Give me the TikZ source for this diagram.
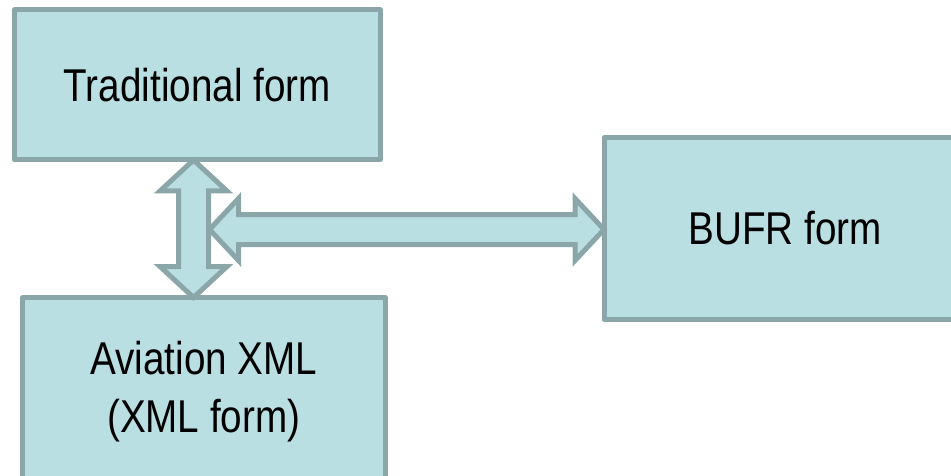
\documentclass[tikz,border=0pt]{standalone}
\usepackage{fontspec}
\setmainfont{Liberation Sans}[FakeStretch=0.84]
\usetikzlibrary{calc}
\definecolor{boxfill}{RGB}{186,223,227}
\definecolor{boxline}{RGB}{138,166,168}
\tikzset{
  formbox/.style={draw=boxline, fill=boxfill, line width=5pt, inner sep=0pt, outer sep=0pt,
    line join=round, align=center, font=\fontsize{46}{58}\selectfont},
  blockarrow/.style={draw=boxline, fill=boxfill, line width=5pt, line join=miter}
}
\begin{document}
\begin{tikzpicture}[x=1pt,y=-1pt]
\useasboundingbox (0,0) rectangle (951,476);
\clip (0,0) rectangle (951,476);
\node[formbox, minimum width=365.5pt, minimum height=150pt] (trad) at (197.25,85) {Traditional form};
\node[formbox, minimum width=362pt, minimum height=182pt] (bufr) at (785,228.5) {BUFR form};
\node[formbox, minimum width=362.5pt, minimum height=187.5pt] (avi) at (203.75,391.25) {Aviation XML\\(XML form)};
\coordinate (vx) at (193.5,0);
\coordinate (vtop) at (vx |- trad.south);
\coordinate (vbot) at (vx |- avi.north);
\coordinate (hl) at ($(vx |- bufr.west)+(16,1)$);
\coordinate (hr) at ($(bufr.west)+(0,1)$);
\draw[blockarrow] (hl) -- ($(hl)+(29,-31)$) -- ($(hl)+(29,-15)$) -- ($(hr)+(-29,-15)$) -- ($(hr)+(-29,-31)$) -- (hr)
  -- ($(hr)+(-29,31)$) -- ($(hr)+(-29,15)$) -- ($(hl)+(29,15)$) -- ($(hl)+(29,31)$) -- cycle;
\draw[blockarrow] (vtop) -- ($(vtop)+(33.5,31)$) -- ($(vtop)+(15,31)$) -- ($(vbot)+(15,-31)$) -- ($(vbot)+(33.5,-31)$) -- (vbot)
  -- ($(vbot)+(-33.5,-31)$) -- ($(vbot)+(-15,-31)$) -- ($(vtop)+(-15,31)$) -- ($(vtop)+(-33.5,31)$) -- cycle;
\end{tikzpicture}
\end{document}
